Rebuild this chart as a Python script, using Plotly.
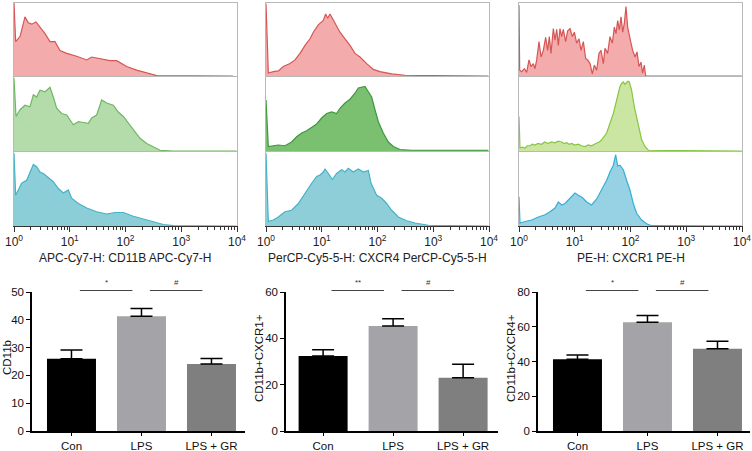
import plotly.graph_objects as go

W, H = 752, 451

# ---------------- Histogram data (x in decades, y = % of row height) ----------------
p1_red_lx = [0, 0.03, 0.108, 0.197, 0.257, 0.317, 0.395, 0.466, 0.556, 0.646, 0.735, 0.825, 0.945,
             1.124, 1.304, 1.393, 1.543, 1.722, 1.842, 2.021, 2.2, 2.38, 2.56, 3.93]
p1_red_y = [100, 47, 54, 81, 73, 71, 74, 67, 58, 47, 47, 35, 31, 27, 22, 26, 24, 21, 21, 13, 8, 4, 0.5, 0]

p1_green_lx = [0, 0.036, 0.108, 0.197, 0.287, 0.347, 0.406, 0.466, 0.556, 0.646, 0.705, 0.765, 0.855,
               0.945, 1.064, 1.154, 1.244, 1.333, 1.393, 1.483, 1.573, 1.662, 1.782, 1.871, 1.961,
               2.051, 2.14, 2.26, 2.38, 2.5, 2.62, 2.858, 3.99]
p1_green_y = [97, 46, 55, 61, 59, 75, 72, 81, 79, 85, 72, 57, 50, 48, 35, 39, 38, 37, 44, 48, 68, 64,
              61, 52, 46, 37, 28, 17, 10, 5, 1, 0, 0]

p1_blue_lx = [0, 0.03, 0.078, 0.137, 0.227, 0.287, 0.347, 0.406, 0.466, 0.526, 0.616, 0.705, 0.795,
              0.885, 0.974, 1.034, 1.154, 1.304, 1.483, 1.662, 1.812, 1.961, 2.14, 2.32, 2.5, 2.68,
              2.858, 3.99]
p1_blue_y = [97, 41, 48, 57, 61, 72, 82, 79, 72, 70, 64, 59, 50, 44, 48, 37, 30, 24, 19, 16, 18, 18,
             13, 9, 6, 2, 0.4, 0]

p2_red_lx = [0, 0.042, 0.132, 0.221, 0.311, 0.43, 0.52, 0.61, 0.7, 0.789, 0.849, 0.938, 1.028, 1.07,
             1.106, 1.148, 1.19, 1.238, 1.327, 1.417, 1.507, 1.596, 1.686, 1.806, 1.925, 2.045, 2.254,
             2.493, 3.031, 3.987]
p2_red_y = [99, 4, 6, 7, 13, 17, 22, 31, 42, 51, 60, 70, 76, 85, 79, 85, 79, 72, 60, 51, 42, 31, 26,
            17, 9, 6, 3, 1, 1, 0]

p2_green_lx = [0, 0.042, 0.132, 0.221, 0.341, 0.46, 0.55, 0.64, 0.729, 0.819, 0.909, 0.998, 1.088,
               1.178, 1.267, 1.327, 1.417, 1.507, 1.596, 1.656, 1.716, 1.776, 1.836, 1.895, 1.955,
               2.015, 2.104, 2.194, 2.284, 2.403, 2.612, 3.987]
p2_green_y = [68, 6, 7, 8, 7, 12, 19, 24, 27, 32, 36, 44, 50, 52, 50, 57, 64, 69, 77, 84, 85, 86, 79,
              72, 55, 39, 24, 12, 6, 2, 1, 1]

p2_blue_lx = [0, 0.042, 0.132, 0.221, 0.341, 0.46, 0.58, 0.7, 0.819, 0.909, 0.968, 1.028, 1.058,
              1.118, 1.19, 1.267, 1.357, 1.417, 1.477, 1.566, 1.656, 1.746, 1.836, 1.884, 1.985,
              2.075, 2.164, 2.254, 2.373, 2.523, 2.672, 2.912, 3.987]
p2_blue_y = [97, 6, 8, 12, 19, 21, 30, 44, 57, 66, 68, 72, 76, 70, 62, 70, 75, 72, 77, 72, 76, 72,
             74, 57, 41, 37, 30, 21, 12, 7, 4, 1, 0]

p3_red_lx = [0, 0.012, 0.048, 0.096, 0.138, 0.179, 0.215, 0.257, 0.287, 0.317, 0.359, 0.395, 0.436,
             0.478, 0.514, 0.544, 0.574, 0.616, 0.646, 0.676, 0.706, 0.735, 0.765, 0.795, 0.837,
             0.873, 0.915, 0.957, 0.993, 1.034, 1.076, 1.112, 1.154, 1.196, 1.232, 1.274, 1.315,
             1.351, 1.393, 1.435, 1.471, 1.513, 1.543, 1.59, 1.632, 1.674, 1.71, 1.74, 1.77, 1.8,
             1.83, 1.86, 1.889, 1.919, 1.949, 1.979, 2.009, 2.039, 2.081, 2.117, 2.152, 2.188,
             2.218, 2.248, 2.272, 3.994]
p3_red_y = [97, 8, 6, 10, 5, 22, 13, 17, 10, 22, 47, 26, 35, 53, 35, 54, 31, 65, 49, 64, 42, 65, 54,
            64, 47, 62, 65, 54, 60, 45, 51, 35, 47, 24, 22, 17, 3, 15, 8, 31, 35, 17, 38, 31, 54,
            45, 67, 58, 76, 63, 81, 60, 72, 95, 67, 54, 45, 35, 26, 33, 13, 19, 4, 15, 0, 0]

p3_green_lx = [0, 0.018, 0.06, 0.108, 0.15, 0.197, 0.24, 0.287, 0.34, 0.407, 0.46, 0.526, 0.58, 0.646,
               0.7, 0.765, 0.81, 0.855, 0.9, 0.945, 1.0, 1.064, 1.12, 1.184, 1.24, 1.303, 1.35,
               1.393, 1.44, 1.483, 1.53, 1.572, 1.632, 1.692, 1.752, 1.811, 1.84, 1.871, 1.9, 1.93,
               1.955, 1.978, 2.02, 2.068, 2.128, 2.2, 2.26, 2.32, 3.994]
p3_green_y = [46, 4, 5, 4, 7, 7, 9, 8, 10, 9, 12, 10, 12, 11, 13, 12, 10, 11, 9, 10, 8, 9, 7, 6, 8,
              7, 9, 10, 12, 15, 19, 24, 37, 50, 68, 86, 90, 92, 89, 91, 93, 92, 81, 59, 37, 15, 6,
              1, 0]

p3_blue_lx = [0, 0.018, 0.108, 0.227, 0.347, 0.466, 0.556, 0.646, 0.705, 0.765, 0.825, 0.915, 1.004,
              1.064, 1.136, 1.214, 1.303, 1.393, 1.483, 1.572, 1.632, 1.692, 1.734, 1.77, 1.811,
              1.871, 1.93, 1.99, 2.05, 2.11, 2.2, 2.29, 2.38, 3.994]
p3_blue_y = [39, 4, 6, 8, 12, 15, 19, 24, 32, 28, 30, 37, 44, 41, 38, 32, 28, 36, 48, 61, 72, 81, 95,
             80, 81, 75, 61, 48, 30, 17, 8, 3, 0.4, 0]

hist_titles = ["APC-Cy7-H: CD11B APC-Cy7-H",
               "PerCP-Cy5-5-H: CXCR4 PerCP-Cy5-5-H",
               "PE-H: CXCR1 PE-H"]
decade_vals = [1, 10, 100, 1000, 10000]
decade_text = ["10<sup>0</sup>", "10<sup>1</sup>", "10<sup>2</sup>", "10<sup>3</sup>", "10<sup>4</sup>"]

# ---------------- Bar data ----------------
groups = ["Con", "LPS", "LPS + GR"]
cd11b = [26.0, 41.3, 24.1]
cd11b_top = [29.1, 44.1, 26.1]
cxcr1 = [32.4, 45.3, 23.0]
cxcr1_top = [35.1, 48.4, 28.8]
cxcr4 = [41.3, 62.6, 47.4]
cxcr4_top = [43.8, 66.5, 51.6]
bar_ylabels = ["CD11b", "CD11b+CXCR1+", "CD11b+CXCR4+"]
bar_ymax = [50, 60, 80]
bar_dtick = [10, 20, 20]
sig_left = ["*", "**", "*"]
sig_right = ["#", "#", "#"]

bar_colors = ["#000000", "#a4a4a8", "#7f7f7f"]

# ---------------- styles ----------------
red_style = ("rgb(214,86,86)", "rgba(242,166,166,0.95)")
green_styles = [("rgb(112,182,100)", "rgb(180,220,170)"),
                ("rgb(62,152,62)", "rgb(122,192,112)"),
                ("rgb(136,198,64)", "rgb(202,230,162)")]
blue_styles = [("rgb(70,178,198)", "rgb(140,206,216)"),
               ("rgb(70,178,198)", "rgb(142,206,216)"),
               ("rgb(52,176,212)", "rgb(150,210,228)")]

hists = [
    [(p1_red_lx, p1_red_y), (p1_green_lx, p1_green_y), (p1_blue_lx, p1_blue_y)],
    [(p2_red_lx, p2_red_y), (p2_green_lx, p2_green_y), (p2_blue_lx, p2_blue_y)],
    [(p3_red_lx, p3_red_y), (p3_green_lx, p3_green_y), (p3_blue_lx, p3_blue_y)],
]


def fx(px):
    return px / W


def fy(py):
    return 1 - py / H


FONT = "Liberation Sans, Arial, sans-serif"
fig = go.Figure()
layout = dict(width=W, height=H, margin=dict(l=0, r=0, t=0, b=0, autoexpand=False),
              paper_bgcolor="white", plot_bgcolor="white", showlegend=False,
              font=dict(family=FONT, color="#222"))

panel_x = [(14, 237), (266, 489), (519, 742)]
row_y = [(3, 76), (76, 151), (151, 226)]
minor_vals = [m * 10 ** d for d in range(4) for m in range(2, 10)]
annotations = []
shapes = []

for p in range(3):
    for r in range(3):
        k = p * 3 + r + 1
        lx, yv = hists[p][r]
        if r == 0:
            lc, fc = red_style
        elif r == 1:
            lc, fc = green_styles[p]
        else:
            lc, fc = blue_styles[p]
        fig.add_trace(go.Scatter(
            x=[10 ** v for v in lx], y=yv, mode="lines", fill="tozeroy",
            line=dict(color=lc, width=1.2), fillcolor=fc,
            xaxis=f"x{k}", yaxis=f"y{k}", hoverinfo="skip"))
        xa = dict(type="log", range=[0, 4], domain=[fx(panel_x[p][0]), fx(panel_x[p][1])],
                  anchor=f"y{k}", showgrid=False, zeroline=False, showline=True,
                  linecolor="#b8b8b8", linewidth=1, mirror=(r == 0), showticklabels=False,
                  ticks="", layer="below traces", automargin=False)
        if r == 2:
            xa.update(linecolor="#333", tickmode="array", tickvals=decade_vals, ticktext=decade_text,
                      showticklabels=True, ticks="outside", ticklen=5, tickcolor="#333",
                      tickfont=dict(size=12, color="#222"),
                      minor=dict(tickmode="array", tickvals=minor_vals, ticks="outside",
                                 ticklen=2.5, tickcolor="#333"))
        ya = dict(range=[0, 100], domain=[fy(row_y[r][1]), fy(row_y[r][0])], anchor=f"x{k}",
                  showgrid=False, zeroline=False, showline=True, linecolor="#b8b8b8",
                  linewidth=1, mirror=True, showticklabels=False, ticks="", layer="below traces",
                  automargin=False)
        layout[f"xaxis{k}"] = xa
        layout[f"yaxis{k}"] = ya
    annotations.append(dict(xref="paper", yref="paper",
                            x=fx((panel_x[p][0] + panel_x[p][1]) / 2), y=fy(258),
                            text=hist_titles[p], showarrow=False,
                            font=dict(size=12, color="#222"), xanchor="center",
                            yanchor="middle"))

# ---------------- Bar charts ----------------
bar_x = [(32, 245), (286, 498), (538, 750)]
bar_title_x = [7, 259, 511]
bar_left_units = [0.564, 0.53, 0.564]
bar_vals = [cd11b, cxcr1, cxcr4]
bar_tops = [cd11b_top, cxcr1_top, cxcr4_top]
for b in range(3):
    k = 10 + b
    idx = list(range(len(groups)))
    vals = bar_vals[b]
    tops = bar_tops[b]
    fig.add_trace(go.Bar(
        x=idx, y=vals, width=0.7, marker=dict(color=bar_colors, line=dict(width=0)),
        error_y=dict(type="data", symmetric=False, array=[t - v for t, v in zip(tops, vals)],
                     arrayminus=[0] * len(vals), color="#000", thickness=1.5, width=11),
        xaxis=f"x{k}", yaxis=f"y{k}", hoverinfo="skip"))
    x0, x1 = bar_x[b]
    left = -bar_left_units[b]
    right = left + (x1 - x0) / 70.0
    layout[f"xaxis{k}"] = dict(
        domain=[fx(x0), fx(x1)], range=[left, right], anchor=f"y{k}",
        tickmode="array", tickvals=idx, ticktext=groups, showline=True, linecolor="#000",
        linewidth=1.5, ticks="outside", ticklen=3, tickwidth=1.2, tickcolor="#000",
        showgrid=False, zeroline=False, tickfont=dict(size=11.5, color="#111"), automargin=False)
    layout[f"yaxis{k}"] = dict(
        domain=[fy(431), fy(292)], range=[0, bar_ymax[b]], dtick=bar_dtick[b], anchor=f"x{k}",
        showline=True, linecolor="#000", linewidth=1.5, ticks="outside", ticklen=4,
        tickwidth=1.2, tickcolor="#000", showgrid=False, zeroline=False,
        tickfont=dict(size=11.5, color="#111"), automargin=False)
    annotations.append(dict(xref="paper", yref="paper", x=fx(bar_title_x[b]), y=fy(358),
                            text=bar_ylabels[b], textangle=-90, showarrow=False,
                            font=dict(size=11.5, color="#111"), xanchor="center", yanchor="middle"))
    for i, sym in enumerate([sig_left[b], sig_right[b]]):
        shapes.append(dict(type="line", xref=f"x{k}", yref="paper", x0=i + 0.12, x1=i + 0.87,
                           y0=fy(290.5), y1=fy(290.5), line=dict(color="#444", width=1)))
        annotations.append(dict(xref=f"x{k}", yref="paper", x=i + 0.5, y=fy(282),
                                text=sym, showarrow=False, font=dict(size=8, color="#333"),
                                yanchor="middle"))

layout["shapes"] = shapes
layout["annotations"] = annotations
fig.update_layout(**layout)
fig.write_html("out.html", config={"displayModeBar": False},
               post_script="document.body.style.margin='0';")
